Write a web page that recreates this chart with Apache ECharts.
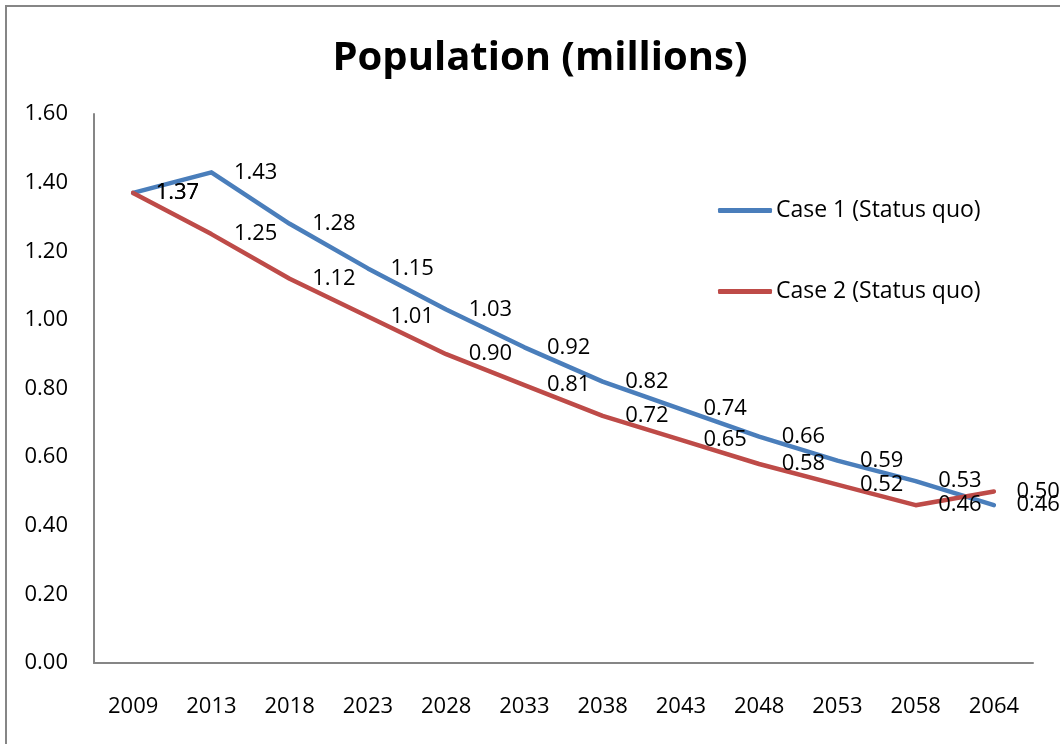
<!DOCTYPE html>
<html>
<head>
<meta charset="utf-8">
<script src="https://cdn.jsdelivr.net/npm/echarts@6/dist/echarts.min.js"></script>
<style>html,body{margin:0;padding:0;background:#fff;}#c{width:1060px;height:744px;}</style>
</head>
<body>
<div id="c"></div>
<script>
const years = ['2009','2013','2018','2023','2028','2033','2038','2043','2048','2053','2058','2064'];
const case1 = [1.37,1.43,1.28,1.15,1.03,0.92,0.82,0.74,0.66,0.59,0.53,0.46];
const case2 = [1.37,1.25,1.12,1.01,0.90,0.81,0.72,0.65,0.58,0.52,0.46,0.50];
const seriesNames = ['Case 1 (Status quo)','Case 2 (Status quo)'];
const FONT = 'Open Sans';

const chart = echarts.init(document.getElementById('c'), null, {renderer:'canvas'});
function mk(name, data, color){
  return {
    name: name, type:'line', data: data,
    symbol:'circle', symbolSize:1, showSymbol:true,
    itemStyle:{color:color},
    lineStyle:{color:color, width:4.5, cap:'round', join:'round'},
    label:{show:true, position:'right', distance:22, color:'#000', fontFamily:FONT, fontSize:22,
      formatter: p => p.value.toFixed(2)},
    emphasis:{disabled:true}
  };
}
chart.setOption({
  animation:false,
  backgroundColor:'#fff',
  title:{text:'Population (millions)', left:535, textAlign:'center', top:34,
    textStyle:{fontFamily:FONT, fontWeight:'bold', fontSize:40, color:'#000'}},
  legend:{orient:'vertical', left:713, top:194, itemGap:58, itemWidth:54, itemHeight:5,
    icon:'roundRect',
    data:seriesNames,
    textStyle:{fontFamily:FONT, fontSize:23, color:'#000', padding:[0,0,0,-1]}},
  grid:{left:94, right:27, top:114, bottom:81, containLabel:false},
  xAxis:{type:'category', data:years, boundaryGap:true,
    axisLine:{lineStyle:{color:'#868686', width:2}}, axisTick:{show:false},
    axisLabel:{color:'#000', fontFamily:FONT, fontSize:22, margin:33}},
  yAxis:{type:'value', min:0, max:1.6, interval:0.2,
    axisLine:{show:true, lineStyle:{color:'#868686', width:2}}, axisTick:{show:false},
    splitLine:{show:false},
    axisLabel:{color:'#000', fontFamily:FONT, fontSize:22, margin:26, formatter:v=>v.toFixed(2)}},
  graphic:[{type:'rect', shape:{x:6, y:6, width:1100, height:800}, style:{fill:null, stroke:'#868686', lineWidth:2}, silent:true, z:-1}],
  series:[mk(seriesNames[0], case1, '#4A7EBB'), mk(seriesNames[1], case2, '#BE4B48')]
});
</script>
</body>
</html>
